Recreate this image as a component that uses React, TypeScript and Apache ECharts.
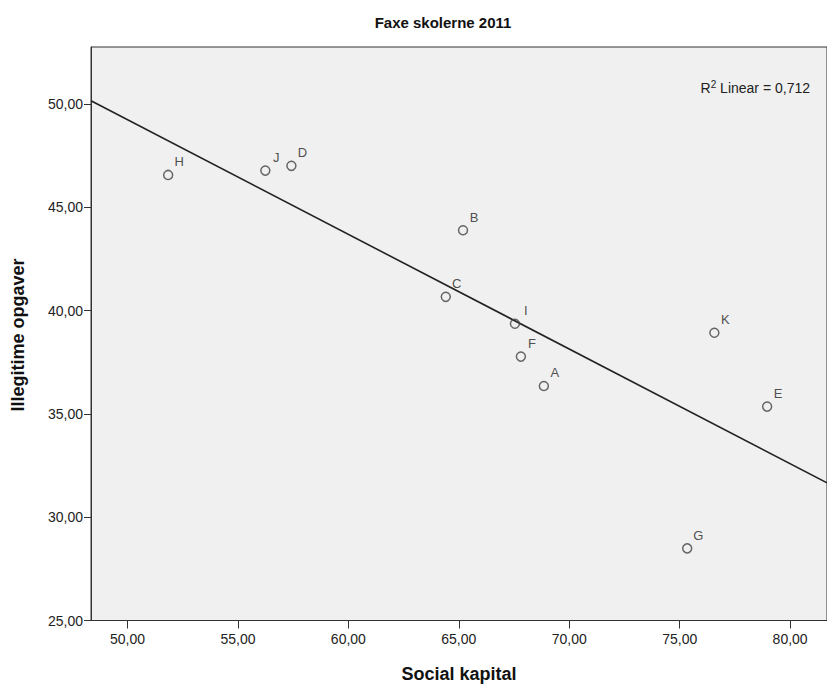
import React, { useEffect, useRef } from "react";
import * as echarts from "echarts";

const schoolNames = ["H", "J", "D", "B", "C", "I", "F", "A", "K", "E", "G"];
const socialKapital = [51.84, 56.24, 57.42, 65.19, 64.41, 67.54, 67.81, 68.85, 76.57, 78.96, 75.34];
const illegitimeOpgaver = [46.56, 46.77, 47.0, 43.88, 40.66, 39.36, 37.77, 36.35, 38.92, 35.35, 28.49];

const fitLineX = [48.347, 81.67];
const fitLineY = [50.15, 31.66];

const xTicks = [50, 55, 60, 65, 70, 75, 80];
const yTicks = [25, 30, 35, 40, 45, 50];

const titleText = "Faxe skolerne 2011";
const xName = "Social kapital";
const yName = "Illegitime opgaver";
const r2Value = "0,712";

const FONT = "'Liberation Sans', Arial, sans-serif";
const fmt = (v: number) => v.toFixed(2).replace(".", ",");

export default function App() {
  const ref = useRef<HTMLDivElement>(null);
  useEffect(() => {
    if (!ref.current) return;
    const chart = echarts.init(ref.current, undefined, { renderer: "svg" });
    const points = socialKapital.map((x, i) => [x, illegitimeOpgaver[i], schoolNames[i]]);
    chart.setOption({
      animation: false,
      backgroundColor: "#ffffff",
      textStyle: { fontFamily: FONT },
      grid: {
        left: 91,
        right: -2,
        top: 47,
        bottom: 65.5,
        show: true,
        backgroundColor: "#f0f0f0",
        borderColor: "#333333",
        borderWidth: 1,
      },
      xAxis: {
        type: "value",
        min: 48.347,
        max: 81.67,
        splitLine: { show: false },
        axisLine: { show: true, lineStyle: { color: "#333333", width: 1 } },
        axisTick: { show: true, length: 8, lineStyle: { color: "#333333" }, customValues: xTicks },
        axisLabel: {
          customValues: xTicks,
          formatter: fmt,
          color: "#222222",
          fontSize: 14,
          fontFamily: FONT,
          margin: 11,
        },
      },
      yAxis: {
        type: "value",
        min: 25,
        max: 52.75,
        splitLine: { show: false },
        axisLine: { show: true, lineStyle: { color: "#333333", width: 1 } },
        axisTick: { show: true, length: 7, lineStyle: { color: "#333333" }, customValues: yTicks },
        axisLabel: {
          customValues: yTicks,
          formatter: fmt,
          color: "#222222",
          fontSize: 14,
          fontFamily: FONT,
          margin: 8,
        },
      },
      graphic: [
        {
          type: "text",
          x: 443,
          y: 22,
          style: {
            text: titleText,
            fill: "#111111",
            font: `bold 15px ${FONT}`,
            align: "center",
            verticalAlign: "middle",
          },
        },
        {
          type: "text",
          x: 459,
          y: 674,
          style: {
            text: xName,
            fill: "#111111",
            font: `bold 18px ${FONT}`,
            align: "center",
            verticalAlign: "middle",
          },
        },
        {
          type: "text",
          x: 18,
          y: 335,
          rotation: Math.PI / 2,
          style: {
            text: yName,
            fill: "#111111",
            font: `bold 18px ${FONT}`,
            align: "center",
            verticalAlign: "middle",
          },
        },
        {
          type: "text",
          x: 810,
          y: 87,
          style: {
            text: "{b|R}{s|2}{b| Linear = " + r2Value + "}",
            align: "right",
            verticalAlign: "middle",
            rich: {
              b: { fontSize: 14, fontFamily: FONT, fill: "#222222", color: "#222222", verticalAlign: "bottom" },
              s: { fontSize: 10, fontFamily: FONT, fill: "#222222", color: "#222222", verticalAlign: "top", padding: [0, 0, 6, 0] },
            },
          },
        },
      ],
      series: [
        {
          type: "line",
          data: fitLineX.map((x, i) => [x, fitLineY[i]]),
          symbol: "none",
          silent: true,
          lineStyle: { color: "#222222", width: 1.6 },
          z: 2,
        },
        {
          type: "scatter",
          data: points,
          symbol: "circle",
          symbolSize: 9,
          itemStyle: { color: "rgba(0,0,0,0)", borderColor: "#444444", borderWidth: 1.5 },
          label: {
            show: true,
            position: "inside",
            offset: [11, -13],
            formatter: (p: any) => p.data[2],
            color: "#222222",
            fontSize: 13,
            fontFamily: FONT,
          },
          z: 3,
        },
      ],
    });
    return () => chart.dispose();
  }, []);
  return (
    <div
      ref={ref}
      style={{ position: "absolute", left: 0, top: 0, width: 827, height: 686 }}
    />
  );
}
